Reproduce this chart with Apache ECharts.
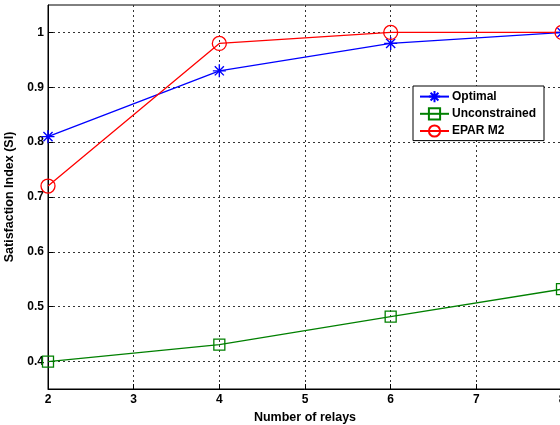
<!DOCTYPE html>
<html>
<head>
<meta charset="utf-8">
<script src="https://cdn.jsdelivr.net/npm/echarts@6/dist/echarts.min.js"></script>
<style>
  html, body { margin: 0; padding: 0; background: #fff; }
  #chart { width: 560px; height: 425px; }
</style>
</head>
<body>
<div id="chart"></div>
<script>
// Relay counts on the x axis
const relays = [2, 4, 6, 8];
// Satisfaction index per scheme
const optimal = [0.81, 0.93, 0.98, 1.0];
const unconstrained = [0.40, 0.431, 0.482, 0.532];
const eparM2 = [0.72, 0.98, 1.0, 1.0];
const seriesNames = ['Optimal', 'Unconstrained', 'EPAR M2'];
const yTicks = [0.4, 0.5, 0.6, 0.7, 0.8, 0.9, 1.0];

const FONT = 'Liberation Sans, Arial, sans-serif';
const asterisk = 'path://M0,-10L0,10M-10,0L10,0M-7,-7L7,7M-7,7L7,-7';

function pairs(vals) {
  return relays.map((r, i) => [r, vals[i]]);
}

const chart = echarts.init(document.getElementById('chart'), null, { renderer: 'canvas' });

const labelStyle = { color: '#000', fontFamily: FONT, fontWeight: 'bold', fontSize: 12 };
const nameStyle = { color: '#000', fontFamily: FONT, fontWeight: 'bold', fontSize: 12.5 };
const dotted = { color: '#333', width: 1, type: [2, 3] };

chart.setOption({
  animation: false,
  backgroundColor: '#fff',
  grid: {
    left: 48, top: 5, width: 514, height: 384,
    outerBoundsMode: 'none', containLabel: false,
    show: true, borderColor: '#000', borderWidth: 1, backgroundColor: 'transparent'
  },
  xAxis: {
    type: 'value', min: 2, max: 8, interval: 1,
    name: 'Number of relays', nameLocation: 'middle', nameGap: 17,
    nameTextStyle: nameStyle,
    axisLine: { show: true, lineStyle: { color: '#000', width: 1 } },
    axisTick: { show: true, inside: true, length: 5, lineStyle: { color: '#000' } },
    axisLabel: Object.assign({ margin: 5 }, labelStyle),
    splitLine: { show: true, lineStyle: dotted }
  },
  yAxis: {
    type: 'value', min: 0.35, max: 1.05,
    name: 'Satisfaction Index (SI)', nameLocation: 'middle', nameGap: 26,
    nameTextStyle: nameStyle,
    axisLine: { show: true, lineStyle: { color: '#000', width: 1 } },
    axisTick: { show: true, inside: true, length: 5, lineStyle: { color: '#000' },
      customValues: yTicks },
    axisLabel: Object.assign({
      margin: 4,
      customValues: yTicks,
      formatter: v => String(Math.round(v * 10) / 10)
    }, labelStyle),
    splitLine: { show: true, lineStyle: dotted }
  },
  legend: {
    left: 413, top: 86, orient: 'vertical',
    backgroundColor: '#fff', borderColor: '#000', borderWidth: 1,
    padding: [4, 8, 3, 6], itemGap: 4, itemWidth: 29, itemHeight: 14,
    textStyle: Object.assign({ padding: [0, 0, 0, -2] }, labelStyle),
    data: seriesNames
  },
  series: [
    {
      name: seriesNames[0], type: 'line', data: pairs(optimal),
      symbol: asterisk, symbolSize: 13,
      lineStyle: { color: '#0000ff', width: 1.3 },
      itemStyle: { color: '#0000ff', borderColor: '#0000ff', borderWidth: 1.4 }
    },
    {
      name: seriesNames[1], type: 'line', data: pairs(unconstrained),
      symbol: 'rect', symbolSize: 11,
      lineStyle: { color: '#008000', width: 1.3 },
      itemStyle: { color: 'rgba(0,0,0,0)', borderColor: '#008000', borderWidth: 1.3 }
    },
    {
      name: seriesNames[2], type: 'line', data: pairs(eparM2),
      symbol: 'circle', symbolSize: 14,
      lineStyle: { color: '#ff0000', width: 1.3 },
      itemStyle: { color: 'rgba(0,0,0,0)', borderColor: '#ff0000', borderWidth: 1.3 }
    }
  ]
});
</script>
</body>
</html>
